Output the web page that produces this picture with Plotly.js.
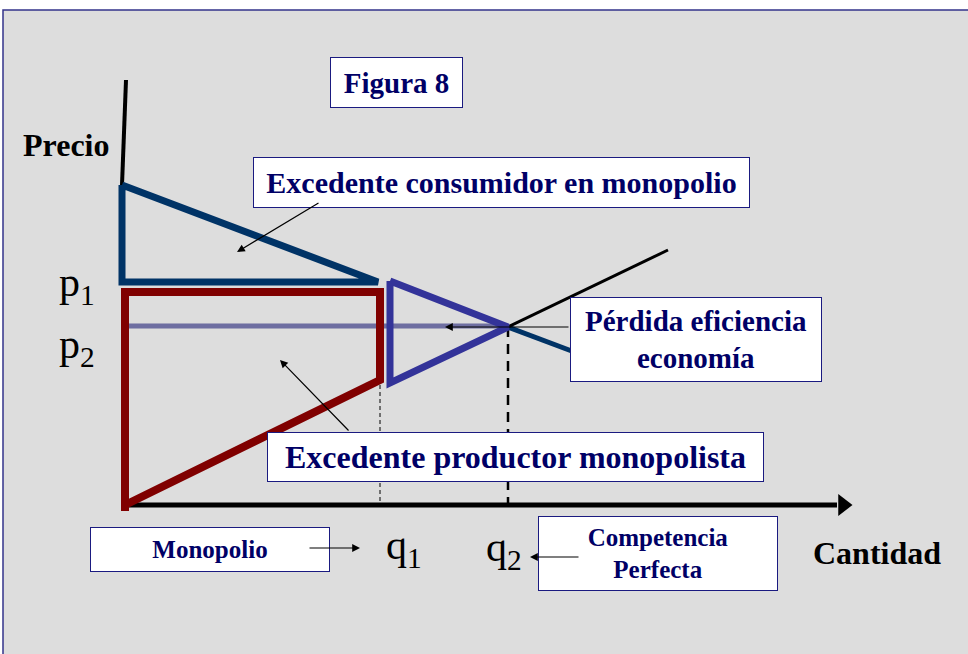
<!DOCTYPE html>
<html>
<head>
<meta charset="utf-8">
<script src="https://cdn.plot.ly/plotly-3.0.1.min.js"></script>
<style>body{margin:0;background:#fff}</style>
</head>
<body>
<div id="chart" style="width:968px;height:654px"></div>
<script>
// key prices and quantities (origin = corner of the two axes)
var q1 = 258, q2 = 386;
var p1 = 223, p2 = 179, pMax = 320;

// price axis (slightly tilted, as drawn)
var yAxisX = [4, 0];
var yAxisY = [425, pMax];
// quantity axis
var xAxisX = [3, 715];
var xAxisY = [0, 0];

// consumer surplus under monopoly
var csX = [0, 0, 256, 0];
var csY = [pMax, p1, p1, pMax];

// producer surplus under monopoly
var psX = [3, 3, q1, q1, 3];
var psY = [-6, 213, 213, 125, 0];

// deadweight loss triangle
var dwlX = [268, 268, q2, 268];
var dwlY = [224, 122, 178, 224];

// rest of demand and supply beyond q2
var demandX = [q2, 455];
var demandY = [178, 152];
var supplyX = [q2, 546];
var supplyY = [178, 255];

// competitive price line
var p2X = [3, q2];
var p2Y = [p2, p2];

var navy = '#003366', red = '#800000', purple = '#333399', ink = '#000066';

function line(x, y, color, width, dash) {
  return {x: x, y: y, type: 'scatter', mode: 'lines', hoverinfo: 'skip',
    line: {color: color, width: width, dash: dash || 'solid'}};
}

var data = [
  line(p2X, p2Y, 'rgba(90,90,150,0.85)', 5),
  line(xAxisX, xAxisY, '#000', 5),
  line(yAxisX, yAxisY, '#000', 4),
  line([q1, q1], [120, 4], '#000', 1, '4px,3px'),
  line([q2, q2], [178, 0], '#000', 2.5, '10px,7px'),
  line(demandX, demandY, navy, 5),
  line(supplyX, supplyY, '#000', 3),
  line(csX, csY, navy, 7),
  line(psX, psY, red, 8),
  line(dwlX, dwlY, purple, 7),
  {x: [721], y: [0], type: 'scatter', mode: 'markers', hoverinfo: 'skip',
    marker: {symbol: 'triangle-right', size: 19, color: '#000'}}
];

var serif = '"Liberation Serif", "DejaVu Serif", serif';

function box(x, y, w, h, text, size) {
  return {x: x, y: y, xref: 'x', yref: 'y', text: text, showarrow: false,
    width: w, height: h, bgcolor: '#fff', bordercolor: '#1a1a80', borderwidth: 1,
    borderpad: 0, align: 'center', valign: 'middle',
    font: {family: serif, size: size, color: ink, weight: 'bold'}};
}
function label(x, y, text, size, bold) {
  return {x: x, y: y, xref: 'x', yref: 'y', text: text, showarrow: false,
    font: {family: serif, size: size, color: '#000', weight: bold ? 'bold' : 'normal'}};
}
function arrow(x, y, ax, ay) {
  return {x: x, y: y, ax: ax, ay: ay, xref: 'x', yref: 'y', axref: 'x', ayref: 'y',
    text: '', showarrow: true, arrowhead: 2, arrowsize: 1.3, arrowwidth: 1.2, arrowcolor: '#000'};
}

var annotations = [
  box(274, 423, 131, 49, 'Figura 8', 29),
  box(379.5, 322.5, 495, 49, 'Excedente consumidor en monopolio', 30),
  box(574, 165.5, 250, 83, 'Pérdida eficiencia<br>economía', 29),
  box(393.5, 48, 495, 48, 'Excedente productor monopolista', 32),
  box(88, -44.5, 238, 43, 'Monopolio', 25),
  box(536, -48.5, 238, 73, 'Competencia<br>Perfecta', 25),
  label(-56, 360, 'Precio', 32, true),
  label(755, -48, 'Cantidad', 32, true),
  label(-45, 220, 'p<sub>1</sub>', 42),
  label(-45, 158, 'p<sub>2</sub>', 42),
  label(282, -43, 'q<sub>1</sub>', 42),
  label(382, -45, 'q<sub>2</sub>', 42),
  arrow(115, 253, 198, 303),
  arrow(158, 145, 228, 73),
  arrow(323, 178, 448, 178),
  arrow(238, -43, 186, -43),
  arrow(408, -52, 458, -52)
];

var layout = {
  width: 968, height: 654,
  margin: {l: 0, r: 0, t: 0, b: 0},
  paper_bgcolor: '#fff', plot_bgcolor: '#fff',
  showlegend: false,
  xaxis: {range: [-122, 846], visible: false, fixedrange: true},
  yaxis: {range: [-149, 505], visible: false, fixedrange: true},
  shapes: [{type: 'rect', xref: 'x', yref: 'y', x0: -119, x1: 870, y0: 495, y1: -170,
    fillcolor: '#dddddd', line: {color: '#33338a', width: 1.5}, layer: 'below'}],
  annotations: annotations
};

Plotly.newPlot('chart', data, layout, {displayModeBar: false, staticPlot: true});
</script>
</body>
</html>
